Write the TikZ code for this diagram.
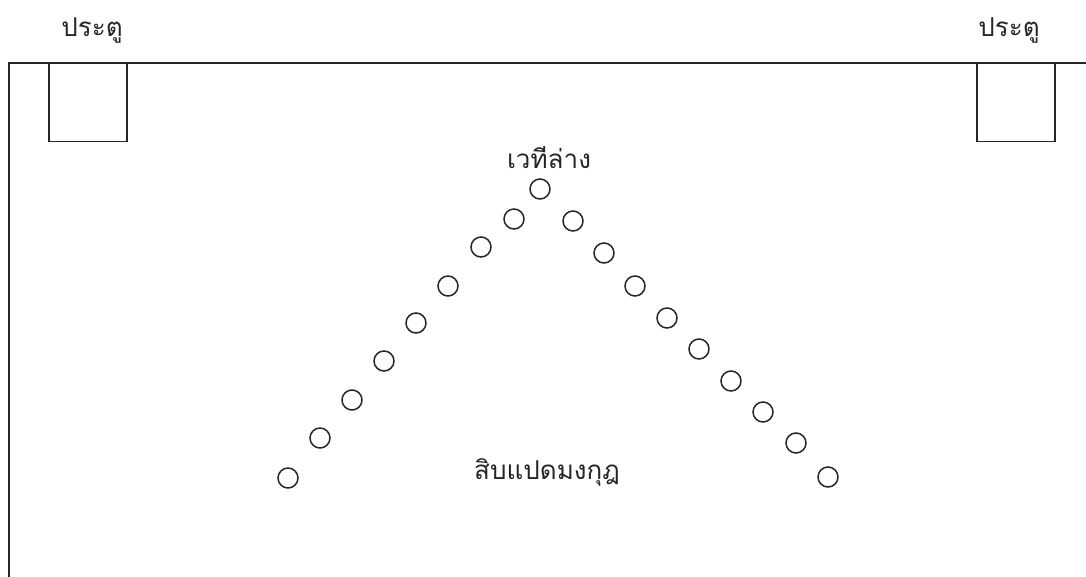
\documentclass[tikz,border=0pt]{standalone}
\usepackage{fontspec}
\newfontfamily\thaifont[Script=Thai]{Loma}
\tikzset{
  wall/.style={line width=1.6pt, draw=black!85},
  seat/.style={circle, draw=black!85, line width=1.5pt, minimum size=20pt, inner sep=0pt},
  door/.style={rectangle, draw=black!85, line width=1.5pt, minimum width=78pt, minimum height=78pt, inner sep=0pt},
  lbl/.style={font=\thaifont\fontsize{26}{30}\selectfont, text=black!85, inner sep=0pt}
}
\begin{document}
\begin{tikzpicture}[x=1pt,y=-1pt]
\useasboundingbox (0,0) rectangle (1086,577);
% frame (top and left walls)
\coordinate (tr) at (1086,63);
\coordinate (tl) at (9,63);
\coordinate (bl) at (9,577);
\draw[wall] (tr) -- (tl) -- (bl);
% doors
\node[door, anchor=north west] (doorL) at (48,63) {};
\node[door, anchor=north west] (doorR) at (976,63) {};
\node[lbl] (labL) at (92,30) {ประตู};
\node[lbl] (labR) at (1009,30) {ประตู};
% labels
\node[lbl] (stage) at (549,158) {เวทีล่าง};
\node[lbl] (troupe) at (547,472) {สิบแปดมงกุฎ};
% seats
\foreach \x/\y [count=\i] in {288/478, 320/438, 352/400, 384/361, 416/323, 448/286, 481/247, 514/219, 540/189}
  \node[seat] (l\i) at (\x,\y) {};
\foreach \x/\y [count=\i] in {573/221, 604/253, 635/286, 667/318, 699/349, 731/381, 763/412, 796/443, 828/477}
  \node[seat] (r\i) at (\x,\y) {};
\end{tikzpicture}
\end{document}
